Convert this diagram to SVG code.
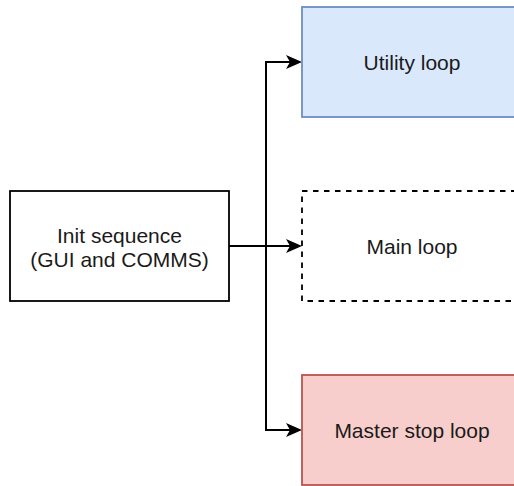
<svg xmlns="http://www.w3.org/2000/svg" width="514" height="486" viewBox="0 0 514 486">
  <defs>
    <style>
      .box { stroke-width: 1.8; }
      .label { font-family: "Liberation Sans", Arial, sans-serif; font-size: 21px; fill: #1a1a1a; text-anchor: middle; dominant-baseline: central; }
      .edge { fill: none; stroke: #000; stroke-width: 2; }
      .head { fill: #000; }
    </style>
  </defs>
  <rect width="514" height="486" fill="#fff"/>

  <g id="connectors">
    <path class="edge" d="M266,246 L266,62 L292,62"/>
    <path class="edge" d="M229,246 L292,246"/>
    <path class="edge" d="M266,246 L266,430 L292,430"/>
    <path class="head" d="M286,55 L302,62 L286,69 L290,62 Z"/>
    <path class="head" d="M286,239 L302,246 L286,253 L290,246 Z"/>
    <path class="head" d="M286,423 L302,430 L286,437 L290,430 Z"/>
  </g>

  <g id="init">
    <rect class="box" x="10" y="191" width="219" height="110" fill="#fff" stroke="#000"/>
    <text class="label" x="119.5" y="235">Init sequence</text>
    <text class="label" x="119.5" y="259">(GUI and COMMS)</text>
  </g>

  <g id="utility">
    <rect class="box" x="302" y="7" width="220" height="110" fill="#dae8fc" stroke="#6c8ebf"/>
    <text class="label" x="412" y="62">Utility loop</text>
  </g>

  <g id="main">
    <rect class="box" x="302" y="191" width="220" height="110" fill="#fff" stroke="#000" stroke-dasharray="5.5 5.5"/>
    <text class="label" x="412" y="246">Main loop</text>
  </g>

  <g id="master-stop">
    <rect class="box" x="302" y="375" width="220" height="110" fill="#f8cecc" stroke="#b85450"/>
    <text class="label" x="412" y="430">Master stop loop</text>
  </g>
</svg>
